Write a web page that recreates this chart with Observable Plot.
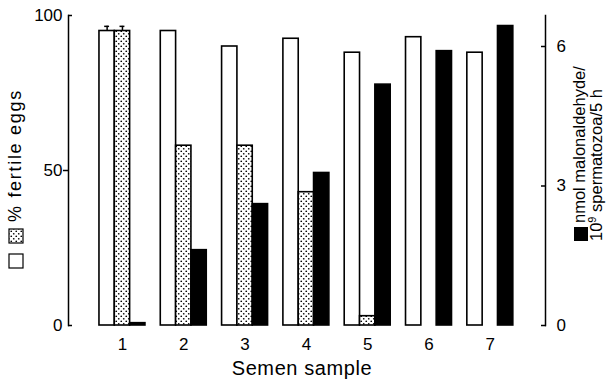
<!DOCTYPE html>
<html><head><meta charset="utf-8">
<script src="https://cdn.jsdelivr.net/npm/d3@7"></script>
<script src="https://cdn.jsdelivr.net/npm/@observablehq/plot@0.6"></script>
<style>
body{margin:0;background:#fff;}
#chart svg{display:block;font-family:"Liberation Sans",Arial,Helvetica,sans-serif;}
</style></head><body><div id="chart"></div>
<script>
// ---- data ----
const samples = [1, 2, 3, 4, 5, 6, 7];
const fertileOpen = [95, 95, 90, 92.5, 88, 93, 88];      // % fertile eggs (open bars)
const fertileStippled = [95, 58, 58, 43, 3, 0, 0];       // % fertile eggs (stippled bars)
const malonaldehyde = [0.05, 1.62, 2.61, 3.28, 5.18, 5.9, 6.44]; // nmol malonaldehyde/10^9 spermatozoa/5 h
const errOpen = [1.5, null, null, null, null, null, null];
const errStippled = [1.5, null, null, null, null, null, null];
const leftTicks = [0, 50, 100];
const rightTicks = [0, 3, 6];
const xLabel = "Semen sample";
const leftLabel = "% fertile eggs";
const rightLabel1 = "nmol malonaldehyde/";
const rightLabel2 = ["10", "9", " spermatozoa/5 h"];

const k = 15; // 100 % on left axis <-> 6.67 nmol on right axis
const bw = 0.25;
const font = '"Liberation Sans",Arial,Helvetica,sans-serif';

const errRows = [];
samples.forEach((s, i) => {
  if (errOpen[i] != null) errRows.push({x: s - 0.25, y1: fertileOpen[i], y2: fertileOpen[i] + errOpen[i]});
  if (errStippled[i] != null) errRows.push({x: s, y1: fertileStippled[i], y2: fertileStippled[i] + errStippled[i]});
});

const svg = Plot.plot({
  width: 611, height: 380,
  marginLeft: 68, marginRight: 66, marginTop: 15, marginBottom: 55,
  style: {fontFamily: font, fontSize: "17px", color: "black", background: "white"},
  x: {type: "linear", domain: [0.12, 7.9]},
  y: {domain: [0, 100]},
  marks: [
    Plot.rectY(samples, {x1: d => d - 1.5 * bw, x2: d => d - 0.5 * bw, y: (d, i) => fertileOpen[i], fill: "white", stroke: "black", strokeWidth: 1.6}),
    Plot.rectY(samples, {x1: d => d - 0.5 * bw, x2: d => d + 0.5 * bw, y: (d, i) => fertileStippled[i], fill: "url(#dots)", stroke: "black", strokeWidth: 1.6}),
    Plot.rectY(samples, {x1: d => d + 0.5 * bw, x2: d => d + 1.5 * bw, y: (d, i) => malonaldehyde[i] * k, fill: "black", stroke: "black", strokeWidth: 1.6}),
    Plot.ruleX(errRows, {x: "x", y1: "y1", y2: "y2", strokeWidth: 1.5}),
    Plot.ruleY(errRows, {x1: d => d.x - 0.04, x2: d => d.x + 0.04, y: "y2", strokeWidth: 1.5}),
    Plot.frame({anchor: "left", strokeWidth: 1.5}),
    Plot.frame({anchor: "right", strokeWidth: 1.5}),
    Plot.axisY({anchor: "left", ticks: leftTicks, tickSize: 0, tickPadding: 6, label: null, fontSize: 17}),
    Plot.axisY({anchor: "left", ticks: [50], tickSize: 5, tickFormat: () => "", label: null, strokeWidth: 1.5}),
    Plot.axisY({anchor: "left", ticks: [0, 100], tickSize: -4, tickFormat: () => "", label: null, strokeWidth: 1.5}),
    Plot.axisY({anchor: "right", ticks: rightTicks.map(t => t * k), tickFormat: d => d / k, tickSize: -5, tickPadding: 16, label: null, fontSize: 17, strokeWidth: 1.5}),
    Plot.axisX({anchor: "bottom", ticks: samples, tickSize: 0, tickPadding: 12, label: null, fontSize: 17}),
    Plot.text([xLabel], {frameAnchor: "bottom", dy: 49, dx: -5, fontSize: 20, text: d => d})
  ]
});

const s = d3.select(svg);
s.selectAll("text").filter(function () { return this.textContent === xLabel; }).attr("letter-spacing", 0.6);
const defs = s.insert("defs", ":first-child");
const pat = defs.append("pattern").attr("id", "dots").attr("patternUnits", "userSpaceOnUse").attr("width", 5).attr("height", 5);
pat.append("rect").attr("width", 5).attr("height", 5).attr("fill", "white");
pat.append("circle").attr("cx", 1.25).attr("cy", 1.25).attr("r", 0.85).attr("fill", "black");
pat.append("circle").attr("cx", 3.75).attr("cy", 3.75).attr("r", 0.85).attr("fill", "black");

// left axis title with legend keys
const lg = s.append("g").attr("font-family", font).attr("text-anchor", "start");
lg.append("rect").attr("x", 9).attr("y", 254).attr("width", 14).attr("height", 14).attr("fill", "white").attr("stroke", "black").attr("stroke-width", 1.2);
lg.append("rect").attr("x", 9).attr("y", 229).attr("width", 14).attr("height", 14).attr("fill", "url(#dots)").attr("stroke", "black").attr("stroke-width", 1.2);
lg.append("text").attr("text-anchor", "start").attr("transform", "translate(21,222) rotate(-90)").attr("font-size", 18).attr("letter-spacing", 1.7).text(leftLabel);

// right axis title with legend key
const rg = s.append("g").attr("font-family", font).attr("text-anchor", "start");
rg.append("rect").attr("x", 574).attr("y", 227).attr("width", 14).attr("height", 14).attr("fill", "black");
rg.append("text").attr("text-anchor", "start").attr("transform", "translate(585,223) rotate(-90)").attr("font-size", 16.5).text(rightLabel1);
const t2 = rg.append("text").attr("text-anchor", "start").attr("transform", "translate(602,241) rotate(-90)").attr("font-size", 16.5);
t2.append("tspan").text(rightLabel2[0]);
t2.append("tspan").attr("dy", -6).attr("font-size", 11).text(rightLabel2[1]);
t2.append("tspan").attr("dy", 6).text(rightLabel2[2]);

document.getElementById("chart").appendChild(svg);
</script></body></html>
